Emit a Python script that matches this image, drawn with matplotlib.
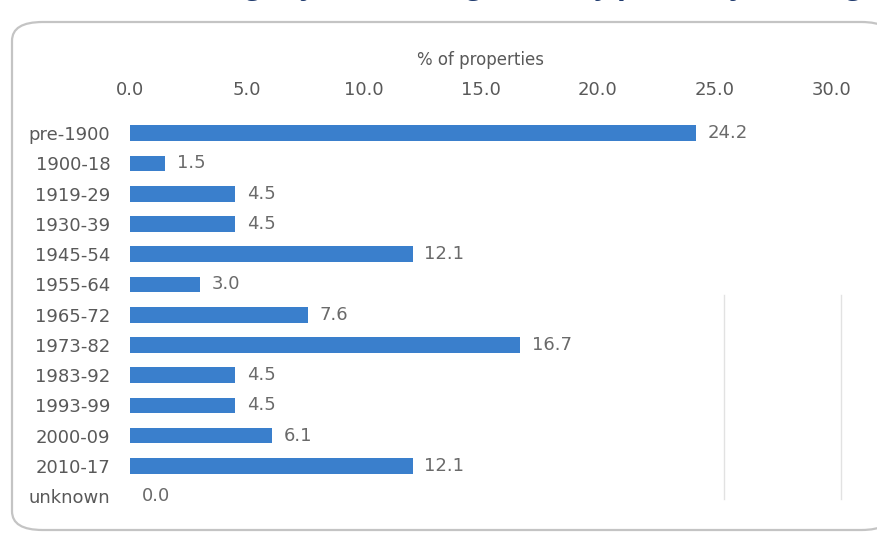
import matplotlib
matplotlib.use("Agg")
import matplotlib.pyplot as plt
from matplotlib.patches import FancyBboxPatch

# dados
periods = ["pre-1900", "1900-18", "1919-29", "1930-39", "1945-54", "1955-64",
           "1965-72", "1973-82", "1983-92", "1993-99", "2000-09", "2010-17",
           "unknown"]
pct = [24.2, 1.5, 4.5, 4.5, 12.1, 3.0, 7.6, 16.7, 4.5, 4.5, 6.1, 12.1, 0.0]
xticks = [0, 5, 10, 15, 20, 25, 30]

TXT = "#595959"
BAR = "#3a7fcc"
FONT = "DejaVu Sans"

fig = plt.figure(figsize=(8.77, 5.37), dpi=100)

# moldura arredondada (estilo caixa do Excel)
frame = FancyBboxPatch((12 / 877, 7 / 537), 880 / 877, 508 / 537,
                       boxstyle="round,pad=0,rounding_size=0.035",
                       transform=fig.transFigure, facecolor="white",
                       edgecolor="#c4c4c4", linewidth=1.6, zorder=-5)
fig.patches.append(frame)

# título cortado no topo da imagem (só as descendentes aparecem)
fig.text(0.985, 1.011, "Age of the housing stock, by period of building",
         ha="right", va="baseline", fontsize=21, fontweight="bold",
         fontstyle="italic", color="#1f3a6e", family="Open Sans")

ax = fig.add_axes([0.148, 0.048, 0.80, 0.732])
ax.patch.set_alpha(0)
y = range(len(periods))
ax.barh(y, pct, height=0.52, color=BAR, zorder=2)

for yi, v in zip(y, pct):
    ax.text(v + 0.5, yi, f"{v:.1f}", va="center", ha="left",
            fontsize=13, color="#6a6a6a", family=FONT)

ax.set_xlim(0, 30)
ax.set_ylim(len(periods) - 0.5, -0.5)
ax.set_yticks(list(y))
ax.set_yticklabels(periods, fontsize=13, color=TXT, family=FONT)
ax.set_xticks(xticks)
ax.set_xticklabels([f"{t:.1f}" for t in xticks], fontsize=13, color=TXT,
                   family=FONT)
ax.xaxis.tick_top()
ax.xaxis.set_label_position("top")
ax.set_xlabel("% of properties", fontsize=12, color=TXT, family=FONT,
              labelpad=11)
ax.tick_params(axis="x", length=0, pad=14)
ax.tick_params(axis="y", length=0, pad=14)
for s in ax.spines.values():
    s.set_visible(False)

# linhas verticais claras na parte de baixo
for xv in (25.4, 30.4):
    ax.axvline(xv, ymin=0.03, ymax=0.55, color="#e2e2e2", lw=1,
               zorder=1, clip_on=False)

fig.savefig("out.png", dpi=100)
